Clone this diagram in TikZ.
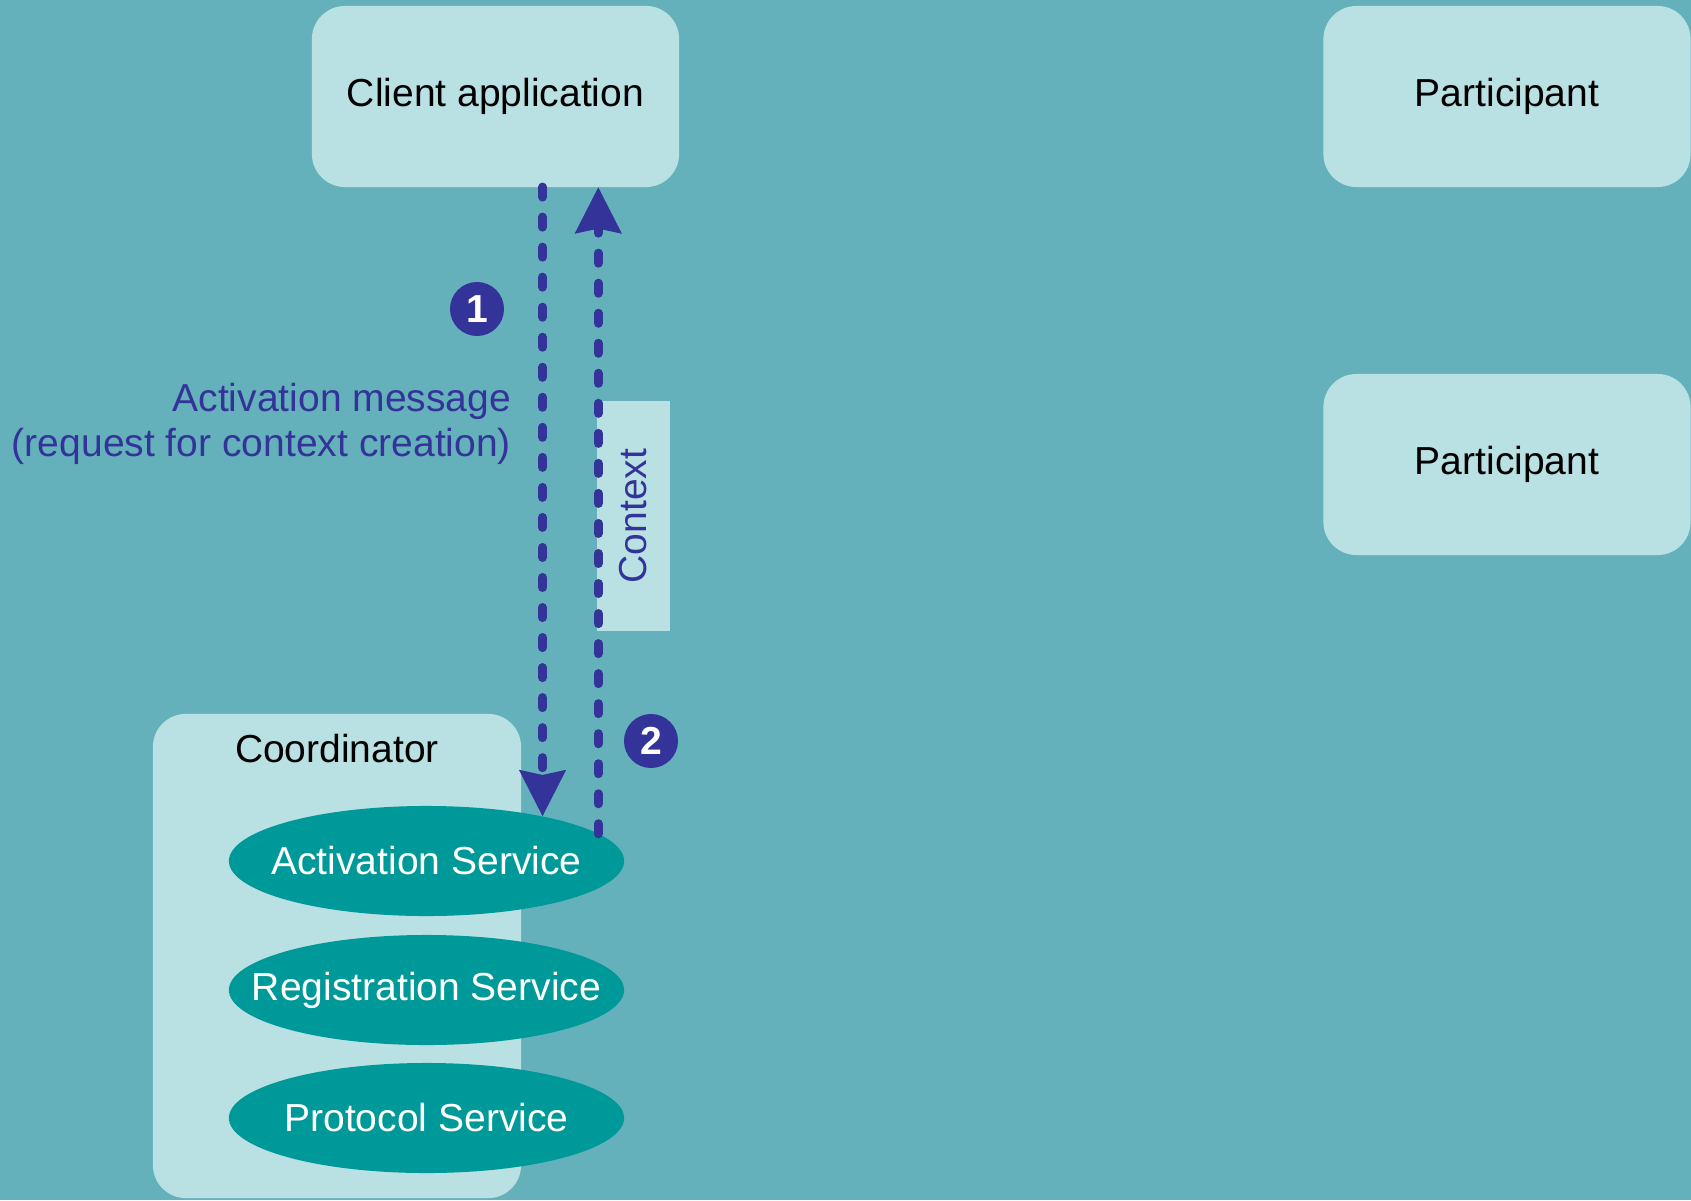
\documentclass[tikz,border=0pt]{standalone}
\usepackage{fontspec}
\setmainfont{Liberation Sans}
\usetikzlibrary{arrows.meta,shapes.geometric}
\definecolor{bg}{HTML}{64B1BB}
\definecolor{pale}{HTML}{B9E0E3}
\definecolor{svcteal}{HTML}{009999}
\definecolor{ink}{HTML}{333399}
\begin{document}
\begin{tikzpicture}[x=0.01cm,y=-0.01cm]
						\useasboundingbox (0,0) rectangle (1691,1200);
						\tikzstyle{every node}=[font=\fontsize{11.1}{12.8}\selectfont, outer sep=0pt];
						\tikzstyle{box}=[fill=pale, rounded corners=9.4pt, minimum width=3.67cm, minimum height=1.81cm, inner sep=0pt];
						\tikzstyle{svc}=[ellipse, fill=svcteal, minimum width=3.95cm, minimum height=1.1cm, inner sep=0pt];
						\tikzstyle{num}=[circle, fill=ink, text=white, font=\fontsize{11.1}{12.8}\selectfont\bfseries, minimum size=0.54cm, inner sep=0pt];
						\tikzstyle{msgline}=[draw=ink, line width=2.56pt, line cap=round, dash pattern=on 2.85pt off 5.69pt, -{Stealth[length=13pt,width=12.8pt,inset=1.2pt]}];
						\fill[bg] (0,0) rectangle (1691,1200);
						\path (495.5,96.5) node[box] (cl) {Client application};
						\path (1507,96.5) node[box] (p1) {Participant};
						\path (1507,464.5) node[box] (p2) {Participant};
						\path (337,956) node[fill=pale, rounded corners=9.4pt, minimum width=3.68cm, minimum height=4.84cm] (co) {};
						\path (337,749) node (colbl) {Coordinator};
						\path (426.5,861) node[svc, label={[text=white]center:Activation Service}] (s1) {};
						\path (426.5,990) node[svc, label={[text=white]center:Registration Service}] (s2) {};
						\path (426.5,1118) node[svc, label={[text=white]center:Protocol Service}] (s3) {};
						\path (633.5,516) node[fill=pale, rotate=90, minimum width=2.3cm, minimum height=0.73cm, text=ink] (ctx) {Context};
						\path (511,424) node[anchor=east, align=right, text=ink, inner sep=0pt] (msg) {Activation message\\(request for context creation)};
						\path (477,309) node[num] (n1) {1};
						\path (651,741) node[num] (n2) {2};
						\draw[msgline] (cl.south -| s1.21) -- (s1.21);
						\draw[msgline] (s1.9) -- (cl.south -| s1.9);
					\end{tikzpicture}
\end{document}
